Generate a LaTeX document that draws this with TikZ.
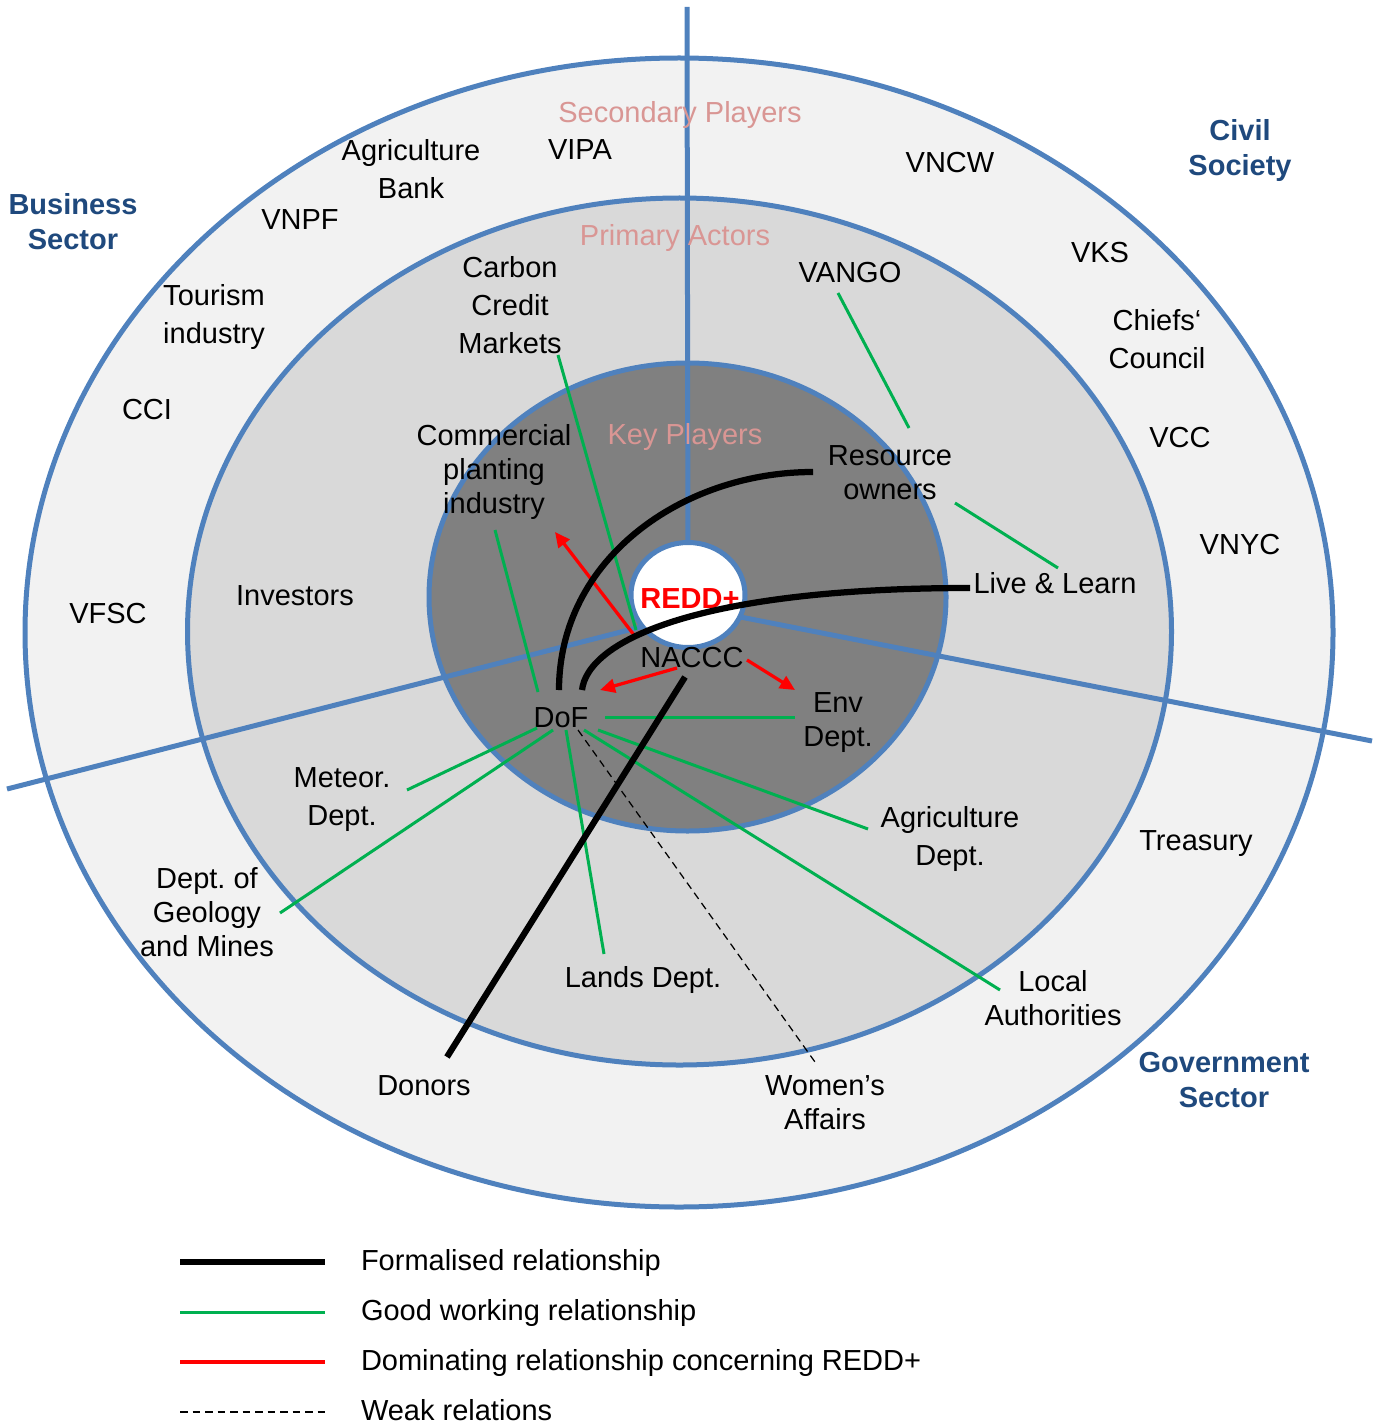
\documentclass[tikz,border=0pt]{standalone}
\usepackage{fontspec}
\setmainfont{Liberation Sans}
\usetikzlibrary{calc,shapes.geometric,arrows.meta}

\definecolor{ringblue}{RGB}{79,129,189}
\definecolor{sectorblue}{RGB}{31,73,125}
\definecolor{tierpink}{RGB}{217,150,148}
\definecolor{goodgreen}{RGB}{0,176,80}
\definecolor{outerfill}{RGB}{242,242,242}
\definecolor{middlefill}{RGB}{217,217,217}
\definecolor{innerfill}{RGB}{128,128,128}

\tikzset{
	lbl/.style={font=\fontsize{11.6}{15.2}\selectfont, align=center, inner sep=1pt},
	lbltight/.style={lbl, font=\fontsize{11.6}{13.6}\selectfont},
	tier/.style={lbl, text=tierpink},
	sector/.style={lbl, font=\fontsize{11.6}{14}\selectfont\bfseries, text=sectorblue},
	ring/.style={draw=ringblue, line width=2pt},
	formal/.style={line width=2.5pt},
	good/.style={draw=goodgreen, line width=1.2pt},
	dominline/.style={draw=red, line width=1.3pt},
	domin/.style={dominline, -{Triangle[length=6pt,width=5.5pt]}},
	weak/.style={line width=0.5pt, dash pattern=on 3pt off 2pt},
}

\begin{document}
\frenchspacing
\begin{tikzpicture}[x=0.4pt, y=-0.4pt]
			\useasboundingbox (0,0) rectangle (1378,1425);
			
			%%%%% RINGS %%%%%
			\draw[ring, fill=outerfill] (679,632.5) ellipse [x radius=654, y radius=574.5];
			\draw[ring, fill=middlefill] (679.5,631.5) ellipse [x radius=492, y radius=433.5];
			\draw[ring, fill=innerfill] (687.5,597) ellipse [x radius=258.5, y radius=234];
			
			\coordinate (hub) at (688,595);
			\coordinate (spokeN) at (687,7);
			\coordinate (spokeW) at (7,789);
			\coordinate (spokeE) at (1372,741);
			\draw[ring] (spokeN) -- (hub);
			\draw[ring] (spokeW) -- ($(hub)+(-28,27)$);
			\draw[ring] (spokeE) -- ($(hub)+(32,18)$);
			
			\node[ellipse, ring, fill=white, minimum width=45.6pt, minimum height=42pt, inner sep=0pt] (redd) at (hub) {};
			\node[lbl, font=\fontsize{11.6}{14}\selectfont\bfseries, text=red] (reddlbl) at (690,599) {REDD+};
			
			%%%%% SECTORS AND TIERS %%%%%
			\node[tier] (secondary) at (680,115) {Secondary Players};
			\node[tier] (primary) at (675,238) {Primary Actors};
			\node[tier] (keyplayers) at (685,437) {Key Players};
			\node[sector] (business) at (73,222) {Business\\Sector};
			\node[sector] (civil) at (1240,151) {Civil\\Society};
			\node[sector] (government) at (1224,1080) {Government\\Sector};
			
			%%%%% SECONDARY PLAYERS %%%%%
			\node[lbl] (agribank) at (411,169) {Agriculture\\Bank};
			\node[lbl] (vipa) at (580,150) {VIPA};
			\node[lbl] (vncw) at (950,163) {VNCW};
			\node[lbl] (vnpf) at (300,220) {VNPF};
			\node[lbl] (tourism) at (214,317) {Tourism\\industry};
			\node[lbl] (cci) at (147,410) {CCI};
			\node[lbl] (vfsc) at (108,614) {VFSC};
			\node[lbl] (vks) at (1100,253) {VKS};
			\node[lbl] (chiefs) at (1157,339) {Chiefs‘\\Council};
			\node[lbl] (vcc) at (1180,438) {VCC};
			\node[lbl] (vnyc) at (1240,545) {VNYC};
			\node[lbl] (treasury) at (1196,844) {Treasury};
			\node[lbl] (donors) at (424,1086) {Donors};
			\node[lbltight] (women) at (825,1103) {Women’s\\Affairs};
			
			%%%%% PRIMARY ACTORS %%%%%
			\node[lbl] (investors) at (295,596) {Investors};
			\node[lbl] (carbon) at (510,305) {Carbon\\Credit\\Markets};
			\node[lbl] (vango) at (850,273) {VANGO};
			\node[lbltight] (livelearn) at (1055,583) {Live \& Learn};
			\node[lbl] (meteor) at (342,800) {Meteor.\\Dept.};
			\node[lbltight] (geology) at (207,912) {Dept. of\\Geology\\and Mines};
			\node[lbl] (lands) at (643,980) {Lands Dept.};
			\node[lbl] (agridept) at (950,839) {Agriculture\\Dept.};
			\node[lbltight] (local) at (1053,998) {Local\\Authorities};
			
			%%%%% KEY PLAYERS %%%%%
			\node[lbltight] (commercial) at (494,472) {Commercial\\planting\\industry};
			\node[lbltight] (resource) at (890,473) {Resource\\owners};
			\node[lbl] (naccc) at (692,658) {NACCC};
			\node[lbl] (dof) at (561,718) {DoF};
			\node[lbltight] (env) at (838,723) {Env\\Dept.};
			
			%%%%% RELATIONS %%%%%
			\draw[good] ($(carbon)+(48,50)$) -- ($(redd)+(-52,35)$);
			\draw[good] ($(vango)+(-12,20)$) -- ($(resource)+(19,-45)$);
			\draw[good] ($(resource)+(65,30)$) -- ($(livelearn)+(3,-15)$);
			\draw[good] ($(commercial)+(1,58)$) -- ($(dof)+(-23,-26)$);
			\draw[good] ($(dof)+(44,-1)$) -- ($(env)+(-43,-6)$);
			\draw[good] ($(dof)+(-24,10)$) -- ($(meteor)+(65,-10)$);
			\draw[good] ($(dof)+(-8,12)$) -- ($(geology)+(73,1)$);
			\draw[good] ($(dof)+(5,12)$) -- ($(lands)+(-39,-26)$);
			\draw[good] ($(dof)+(37,12)$) -- ($(agridept)+(-82,-10)$);
			\draw[good] ($(dof)+(23,12)$) -- ($(local)+(-53,-8)$);
			\draw[weak] ($(dof)+(17,12)$) -- ($(women)+(-10,-41)$);
			
			\draw[domin] ($(naccc)+(-15,10)$) -- ($(dof)+(39,-28)$);
			\draw[domin] ($(naccc)+(55,2)$) -- ($(env)+(-43,-33)$);
			\draw[domin] ($(redd)+(-54,40)$) -- ($(commercial)+(61,60)$);
			
			\draw[formal] ($(naccc)+(-7,19)$) -- ($(donors)+(23,-29)$);
			\draw[formal] ($(dof)+(-2,-28)$) .. controls ($(dof)+(-2,-159)$) and ($(resource)+(-208,-1)$) .. ($(resource)+(-77,-1)$);
			\draw[formal] ($(dof)+(21,-28)$) .. controls ($(dof)+(27,-78)$) and ($(livelearn)+(-355,5)$) .. ($(livelearn)+(-85,5)$);
			
			%%%%% LEGEND %%%%%
			\foreach \sty/\txt [count=\i from 0] in {formal/Formalised relationship, good/Good working relationship, dominline/Dominating relationship concerning REDD+, weak/Weak relations}{
				\draw[\sty] (180,1262+50*\i) -- (325,1262+50*\i);
				\node[lbl, anchor=base west] (legend\i) at (358,1270+50*\i) {\txt};
			}
			
\end{tikzpicture}
\end{document}
